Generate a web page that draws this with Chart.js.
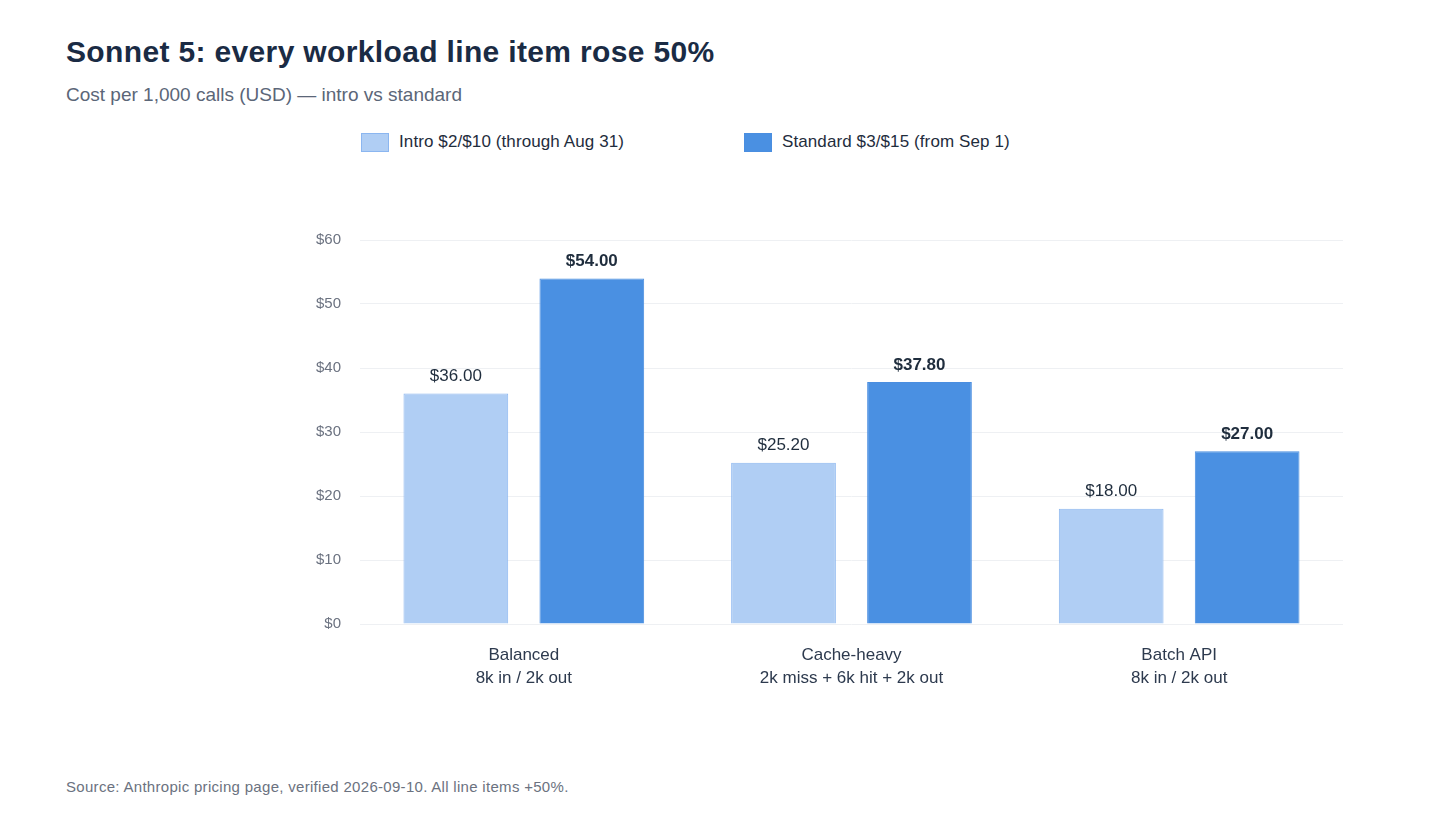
<!DOCTYPE html>
<html>
<head>
<meta charset="utf-8">
<script src="https://cdn.jsdelivr.net/npm/chart.js@4.4.1/dist/chart.umd.min.js"></script>
<style>
  body { margin: 0; background: #fff; font-family: "Liberation Sans", Arial, sans-serif; }
  #page { position: relative; width: 1440px; height: 840px; }
  h1 { position: absolute; left: 66px; top: 35px; margin: 0; font-size: 30px; letter-spacing: 0.35px; font-weight: bold; color: #1a2b44; }
  .sub { position: absolute; left: 66px; top: 84px; font-size: 19px; color: #5b6678; }
  .legend { position: absolute; top: 132px; left: 0; font-size: 17px; letter-spacing: 0.1px; color: #1f2d3d; }
  .item { position: absolute; white-space: nowrap; display: flex; align-items: center; }
  .box { width: 26px; height: 17px; margin-right: 10px; border: 1px solid; }
  .src { position: absolute; left: 66px; top: 778px; font-size: 15px; letter-spacing: 0.3px; color: #6b7280; }
  #wrap { position: absolute; left: 300px; top: 200px; width: 1060px; height: 504px; }
</style>
</head>
<body>
<div id="page">
  <h1>Sonnet 5: every workload line item rose 50%</h1>
  <div class="sub">Cost per 1,000 calls (USD) — intro vs standard</div>
  <div class="legend">
    <div class="item" style="left:361px"><span class="box" style="background:#b0cef4;border-color:#8bb6f0"></span>Intro $2/$10 (through Aug 31)</div>
    <div class="item" style="left:744px"><span class="box" style="background:#4a90e2;border-color:#4a8ee0"></span>Standard $3/$15 (from Sep 1)</div>
  </div>
  <div id="wrap"><canvas id="chart"></canvas></div>
  <div class="src">Source: Anthropic pricing page, verified 2026-09-10. All line items +50%.</div>
</div>
<script>
const categories = [["Balanced", "8k in / 2k out"], ["Cache-heavy", "2k miss + 6k hit + 2k out"], ["Batch API", "8k in / 2k out"]];
const introCost = [36.00, 25.20, 18.00];
const standardCost = [54.00, 37.80, 27.00];
const yTicks = [0, 10, 20, 30, 40, 50, 60];

const barLabels = {
  id: 'barLabels',
  afterDatasetsDraw(chart) {
    const ctx = chart.ctx;
    chart.data.datasets.forEach((ds, i) => {
      const meta = chart.getDatasetMeta(i);
      meta.data.forEach((bar, j) => {
        ctx.save();
        ctx.font = (i === 1 ? 'bold ' : '') + '17px "Liberation Sans", Arial, sans-serif';
        ctx.fillStyle = '#1f2d3d';
        ctx.textAlign = 'center';
        ctx.textBaseline = 'middle';
        ctx.fillText('$' + ds.data[j].toFixed(2), bar.x, bar.y - 17);
        ctx.restore();
      });
    });
  }
};

new Chart(document.getElementById('chart'), {
  type: 'bar',
  data: {
    labels: categories,
    datasets: [{
      label: 'Intro $2/$10 (through Aug 31)',
      data: introCost,
      backgroundColor: '#b0cef4',
      borderColor: '#8bb6f0',
      borderWidth: 1
    }, {
      label: 'Standard $3/$15 (from Sep 1)',
      data: standardCost,
      backgroundColor: '#4a90e2',
      borderColor: '#4a8ee0',
      borderWidth: 1
    }]
  },
  options: {
    responsive: true,
    maintainAspectRatio: false,
    animation: false,
    categoryPercentage: 0.83,
    barPercentage: 0.77,
    layout: { padding: { top: 40, right: 17 } },
    plugins: {
      legend: { display: false },
      tooltip: { enabled: false }
    },
    scales: {
      x: {
        grid: { display: false, drawTicks: false },
        border: { display: false },
        ticks: {
          color: '#2d3a4e',
          padding: 20,
          font: { family: '"Liberation Sans", Arial, sans-serif', size: 17, lineHeight: 1.36 }
        },
        afterFit(scale) { scale.height = 80; }
      },
      y: {
        min: 0,
        max: 60,
        afterBuildTicks(scale) { scale.ticks = yTicks.map(v => ({ value: v })); },
        grid: { color: '#eef0f3', drawTicks: false },
        border: { display: false },
        ticks: {
          color: '#6b7280',
          padding: 19,
          font: { family: '"Liberation Sans", Arial, sans-serif', size: 15 },
          callback: v => '$' + v
        },
        afterFit(scale) { scale.width = 60; }
      }
    }
  },
  plugins: [barLabels]
});
</script>
</body>
</html>
